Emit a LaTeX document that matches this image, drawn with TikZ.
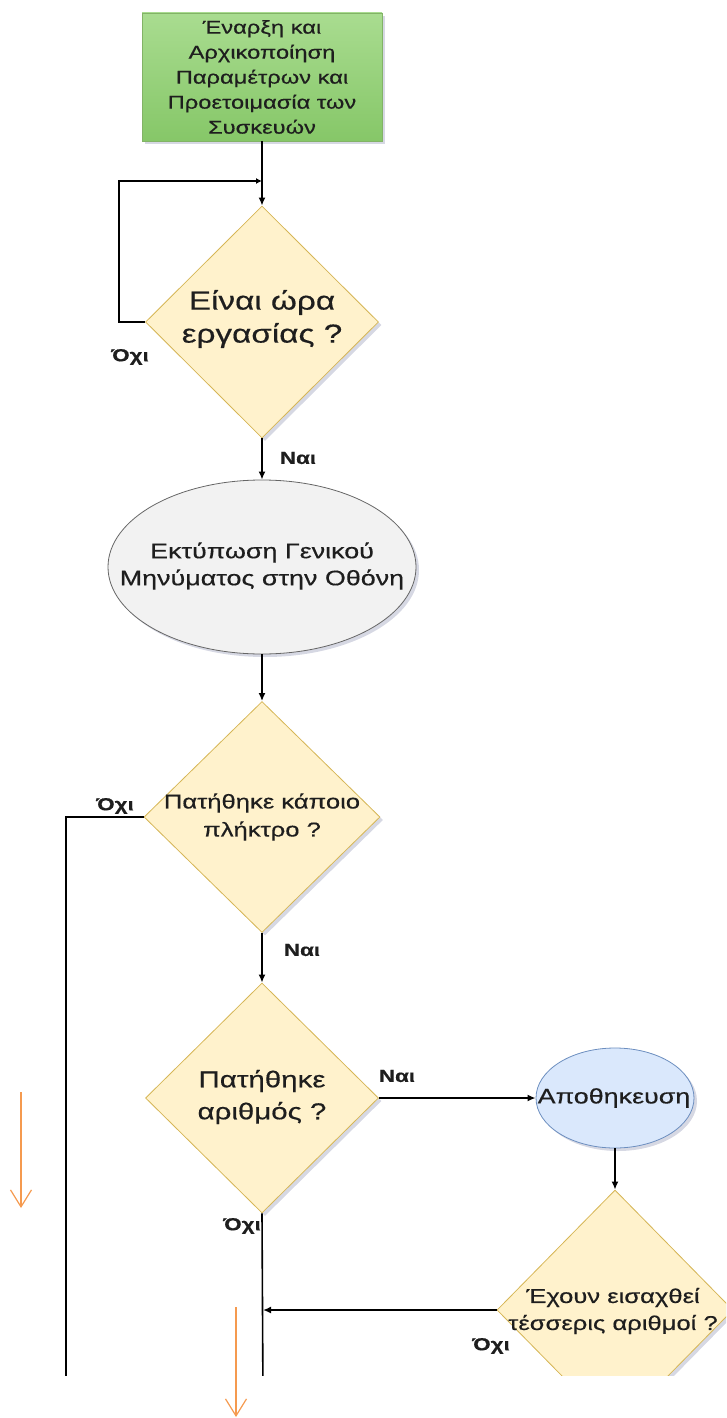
\documentclass[tikz,border=0pt]{standalone}
\usepackage{fontspec}
\setmainfont{Liberation Sans}[FakeStretch=1.28, FakeBold=0.4]
\usetikzlibrary{shapes.geometric,arrows.meta,shadows}

\definecolor{decfill}{HTML}{FFF2CC}
\definecolor{decline}{HTML}{D6B656}
\definecolor{blufill}{HTML}{DAE8FC}
\definecolor{bluline}{HTML}{6C8EBF}
\definecolor{gryfill}{HTML}{F2F2F2}
\definecolor{gryline}{HTML}{666666}
\definecolor{grnline}{HTML}{82B366}
\definecolor{grntop}{HTML}{A9DC90}
\definecolor{grnbot}{HTML}{86C768}
\definecolor{txt}{HTML}{1E1E1E}
\definecolor{hint}{HTML}{F59A4F}
\definecolor{shade}{HTML}{8A8FB0}

\tikzset{
  softshadow/.style={drop shadow={shadow xshift=3pt, shadow yshift=-3pt, opacity=.35, fill=shade}},
  startbox/.style={rectangle, draw=grnline, line width=0.8pt, top color=grntop, bottom color=grnbot,
    minimum width=240pt, minimum height=128pt, inner sep=0pt, align=center, text=txt,
    font=\fontsize{18.5}{25}\selectfont, softshadow},
  decbox/.style={diamond, draw=decline, line width=0.8pt, fill=decfill, inner sep=0pt, softshadow},
  greyoval/.style={ellipse, draw=gryline, line width=0.8pt, fill=gryfill, inner sep=0pt, softshadow},
  blueoval/.style={ellipse, draw=bluline, line width=0.8pt, fill=blufill, inner sep=0pt, softshadow},
  inner/.style={align=center, inner sep=0pt, text=txt},
  answer/.style={inner sep=0pt, text=txt, font=\fontsize{17.5}{20}\selectfont\bfseries},
  wire/.style={draw=black, line width=1.6pt},
  flow/.style={wire, -{Latex[length=8pt,width=7pt]}},
  hintarrow/.style={draw=hint, line width=1.2pt, -{Straight Barb[length=17pt,width=21pt,line width=1.2pt]}}
}

\begin{document}
\begin{tikzpicture}[x=1pt,y=-1pt]
\useasboundingbox (0,0) rectangle (726,1418);

\begin{scope}
\clip (0,0) rectangle (726,1375);

% shapes
\node[startbox] (start) at (262,77) {Έναρξη και\\Αρχικοποίηση\\Παραμέτρων και\\Προετοιμασία των\\Συσκευών};

\node[decbox, minimum width=233pt, minimum height=232pt] (q1) at (262,322) {};
\node[inner, font=\fontsize{26}{33}\selectfont] (q1t) at (262,319) {Είναι ώρα\\εργασίας ?};

\node[greyoval, minimum width=308pt, minimum height=174pt] (e1) at (262,567) {};
\node[inner, font=\fontsize{21}{27}\selectfont] (e1t) at (262,566) {Εκτύπωση Γενικού\\Μηνύματος στην Οθόνη};

\node[decbox, minimum width=236pt, minimum height=231pt] (q2) at (262,817) {};
\node[inner, font=\fontsize{20}{28}\selectfont] (q2t) at (262,817) {Πατήθηκε κάποιο\\πλήκτρο ?};

\node[decbox, minimum width=233pt, minimum height=230pt] (q3) at (262,1098) {};
\node[inner, font=\fontsize{23}{32}\selectfont] (q3t) at (262,1097) {Πατήθηκε\\αριθμός ?};

\node[blueoval, minimum width=158pt, minimum height=100pt] (e2) at (615,1098) {};
\node[inner, font=\fontsize{21}{24}\selectfont] (e2t) at (614,1098) {Αποθηκευση};

\node[decbox, minimum width=236pt, minimum height=240pt] (q4) at (615,1310) {};
\node[inner, font=\fontsize{20}{27}\selectfont] (q4t) at (613,1311) {Έχουν εισαχθεί\\τέσσερις αριθμοί ?};

% connector ends
\coordinate (j1) at (262,181);
\coordinate (j2) at (263,1310);
\coordinate (lowleft) at (66,1400);
\coordinate (lowmid) at (263,1400);

% connectors
\draw[flow] (start.south) -- (q1.north);
\draw[wire, -{Latex[length=6pt,width=6pt]}] (q1.west) -- (119,322) -- (119,181) -- (j1);
\draw[flow] (q1.south) -- (e1.north);
\draw[flow] (e1.south) -- (q2.north);
\draw[wire] (q2.west) -- (66,817) -- (lowleft);
\draw[flow] (q2.south) -- (q3.north);
\draw[flow] (q3.east) -- (e2.west);
\draw[wire] (q3.south) -- (lowmid);
\draw[flow] (e2.south) -- (q4.north);
\draw[flow] (q4.west) -- (j2);

% answers
\node[answer] (a1) at (130,357) {Όχι};
\node[answer] (a2) at (298,458) {Ναι};
\node[answer] (a3) at (115,806) {Όχι};
\node[answer] (a4) at (302,950) {Ναι};
\node[answer] (a5) at (397,1076) {Ναι};
\node[answer] (a6) at (242,1226) {Όχι};
\node[answer] (a7) at (491,1346) {Όχι};
\end{scope}

% orange guide arrows
\coordinate (g1a) at (21,1092);
\coordinate (g1b) at (21,1208);
\coordinate (g2a) at (236,1307);
\coordinate (g2b) at (236,1417);
\draw[hintarrow] (g1a) -- (g1b);
\draw[hintarrow] (g2a) -- (g2b);
\end{tikzpicture}
\end{document}
